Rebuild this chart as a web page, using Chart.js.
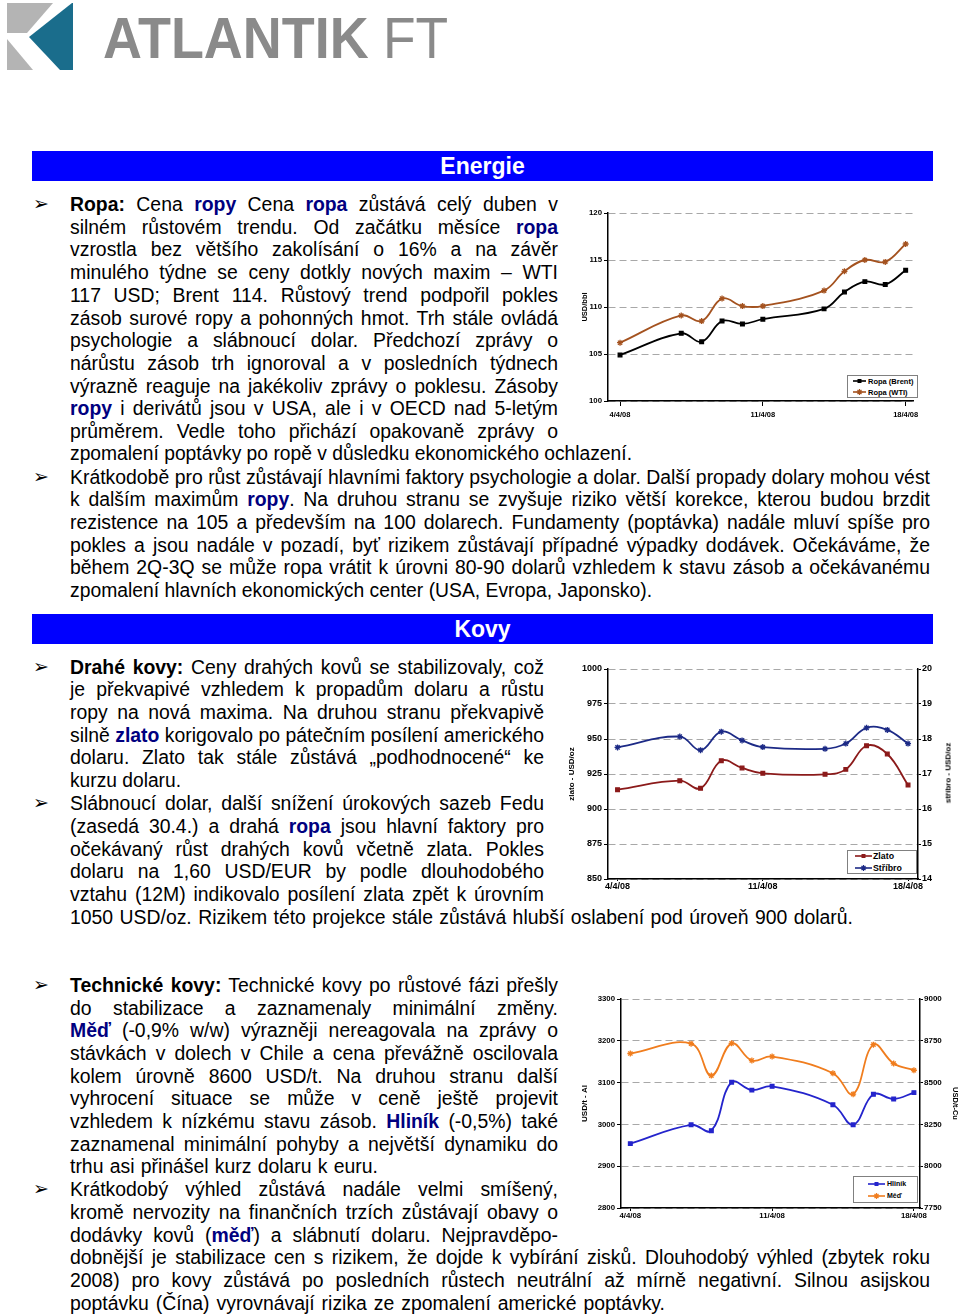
<!DOCTYPE html>
<html>
<head>
<meta charset="utf-8">
<script src="https://cdn.jsdelivr.net/npm/chart.js@4.4.0/dist/chart.umd.min.js"></script>
<style>
html,body{margin:0;padding:0;background:#fff;}
#page{position:relative;width:960px;height:1316px;overflow:hidden;font-family:'Liberation Sans',Arial,sans-serif;}
.ln{position:absolute;white-space:nowrap;font-size:19.4px;line-height:22px;color:#000;transform-origin:0 50%;}
.ln b.k{color:#000080;}
.bul{position:absolute;left:33px;font-family:'DejaVu Sans';font-size:19px;line-height:22px;}
.bar{position:absolute;left:32px;width:901px;height:30px;line-height:30px;background:#0000ff;color:#fff;font-weight:bold;font-size:23px;text-align:center;}
canvas{position:absolute;}
.lg{position:absolute;background:#fff;border:1px solid #808080;box-sizing:border-box;font-weight:bold;color:#000;}
.lg div,.lg svg{position:absolute;white-space:nowrap;}
.vt{position:absolute;font-weight:bold;white-space:nowrap;transform:translate(-50%,-50%) rotate(-90deg);}
.logo{position:absolute;top:9px;font-size:58px;line-height:58px;color:#8a8a8a;transform-origin:0 0;white-space:nowrap;}
</style>
</head>
<body>
<div id="page">
  <svg style="position:absolute;left:0;top:0" width="80" height="75">
    <rect x="7" y="3" width="66" height="67" fill="#fff"/>
    <polygon points="7,3 53,3 27,33 7,33" fill="#b4b4b4"/>
    <polygon points="7,39 33,70 7,70" fill="#b4b4b4"/>
    <polygon points="72,3 73,3 73,70 60,70 29,37" fill="#1a6d8c"/>
  </svg>
  <div class="logo" style="left:103px;font-weight:bold;transform:scaleX(0.93)">ATLANTIK</div>
  <div class="logo" style="left:383px;transform:scaleX(0.92)">FT</div>

  <div class="bar" style="top:151px">Energie</div>
  <div class="bar" style="top:614px">Kovy</div>

  <canvas id="chRopa" width="370" height="232" style="left:570px;top:195px"></canvas>
  <canvas id="chDrahe" width="400" height="247" style="left:560px;top:655px"></canvas>
  <canvas id="chTech" width="385" height="245" style="left:575px;top:985px"></canvas>
</div>

<script>
// --- data ---
var dates = ['4/4/08','7/4/08','8/4/08','9/4/08','10/4/08','11/4/08','14/4/08','15/4/08','16/4/08','17/4/08','18/4/08'];
var xTicks = ['4/4/08','11/4/08','18/4/08'];

var brent = [104.9, 107.2, 106.3, 108.5, 108.2, 108.7, 109.8, 111.6, 112.7, 112.4, 113.9];
var wti = [106.2, 109.1, 108.5, 110.9, 110.1, 110.1, 111.75, 113.8, 115.0, 114.8, 116.7];

var zlato = [913.8, 920.2, 914.8, 934.5, 929.3, 925.5, 924.8, 928.3, 945.2, 939.3, 917.1];
var stribro = [17.76, 18.07, 17.68, 18.21, 17.96, 17.77, 17.72, 17.87, 18.32, 18.26, 17.87];

var hlinik = [2954, 2999, 2985, 3101, 3082, 3091, 3047, 2999, 3072, 3061, 3076];
var med = [8674, 8733, 8542, 8735, 8632, 8656, 8556, 8431, 8727, 8614, 8574];

var ropaNames = ['Ropa (Brent)', 'Ropa (WTI)'];
var ropaColors = ['#000000', '#a4521f'];
var draheNames = ['Zlato', 'Stříbro'];
var draheColors = ['#8b1a1a', '#1c2a86'];
var techNames = ['Hliník', 'Měď'];
var techColors = ['#2424cc', '#f07d1e'];

// --- text lines: [y, x0, x1, html] ---
var lines = [
 [204,70,558,'<b>Ropa:</b> Cena <b class="k">ropy</b> Cena <b class="k">ropa</b> zůstává celý duben v'],
 [227,70,558,'silném růstovém trendu. Od začátku měsíce <b class="k">ropa</b>'],
 [249,70,558,'vzrostla bez většího zakolísání o 16% a na závěr'],
 [272,70,558,'minulého týdne se ceny dotkly nových maxim – WTI'],
 [295,70,558,'117 USD; Brent 114. Růstový trend podpořil pokles'],
 [318,70,558,'zásob surové ropy a pohonných hmot. Trh stále ovládá'],
 [340,70,558,'psychologie a slábnoucí dolar. Předchozí zprávy o'],
 [363,70,558,'nárůstu zásob trh ignoroval a v posledních týdnech'],
 [386,70,558,'výrazně reaguje na jakékoliv zprávy o poklesu. Zásoby'],
 [408,70,558,'<b class="k">ropy</b> i derivátů jsou v USA, ale i v OECD nad 5-letým'],
 [431,70,558,'průměrem. Vedle toho přichází opakovaně zprávy o'],
 [453,70,632,'zpomalení poptávky po ropě v důsledku ekonomického ochlazení.'],
 [477,70,930,'Krátkodobě pro růst zůstávají hlavními faktory psychologie a dolar. Další propady dolary mohou vést'],
 [499,70,930,'k dalším maximům <b class="k">ropy</b>. Na druhou stranu se zvyšuje riziko větší korekce, kterou budou brzdit'],
 [522,70,930,'rezistence na 105 a především na 100 dolarech. Fundamenty (poptávka) nadále mluví spíše pro'],
 [545,70,930,'pokles a jsou nadále v pozadí, byť rizikem zůstávají případné výpadky dodávek. Očekáváme, že'],
 [567,70,930,'během 2Q-3Q se může ropa vrátit k úrovni 80-90 dolarů vzhledem k stavu zásob a očekávanému'],
 [590,70,652,'zpomalení hlavních ekonomických center (USA, Evropa, Japonsko).'],
 [667,70,544,'<b>Drahé kovy:</b> Ceny drahých kovů se stabilizovaly, což'],
 [689,70,544,'je překvapivé vzhledem k propadům dolaru a růstu'],
 [712,70,544,'ropy na nová maxima. Na druhou stranu překvapivě'],
 [735,70,544,'silně <b class="k">zlato</b> korigovalo po pátečním posílení amerického'],
 [757,70,544,'dolaru. Zlato tak stále zůstává „podhodnocené“ ke'],
 [780,70,181,'kurzu dolaru.'],
 [803,70,544,'Slábnoucí dolar, další snížení úrokových sazeb Fedu'],
 [826,70,544,'(zasedá 30.4.) a drahá <b class="k">ropa</b> jsou hlavní faktory pro'],
 [849,70,544,'očekávaný růst drahých kovů včetně zlata. Pokles'],
 [871,70,544,'dolaru na 1,60 USD/EUR by podle dlouhodobého'],
 [894,70,544,'vztahu (12M) indikovalo posílení zlata zpět k úrovním'],
 [917,70,853,'1050 USD/oz. Rizikem této projekce stále zůstává hlubší oslabení pod úroveň 900 dolarů.'],
 [985,70,558,'<b>Technické kovy:</b> Technické kovy po růstové fázi přešly'],
 [1008,70,558,'do stabilizace a zaznamenaly minimální změny.'],
 [1030,70,558,'<b class="k">Měď</b> (-0,9% w/w) výrazněji nereagovala na zprávy o'],
 [1053,70,558,'stávkách v dolech v Chile a cena převážně oscilovala'],
 [1076,70,558,'kolem úrovně 8600 USD/t. Na druhou stranu další'],
 [1098,70,558,'vyhrocení situace se může v ceně ještě projevit'],
 [1121,70,558,'vzhledem k nízkému stavu zásob. <b class="k">Hliník</b> (-0,5%) také'],
 [1144,70,558,'zaznamenal minimální pohyby a největší dynamiku do'],
 [1166,70,378,'trhu asi přinášel kurz dolaru k euru.'],
 [1189,70,558,'Krátkodobý výhled zůstává nadále velmi smíšený,'],
 [1212,70,558,'kromě nervozity na finančních trzích zůstávají obavy o'],
 [1235,70,558,'dodávky kovů (<b class="k">měď</b>) a slábnutí dolaru. Nejpravděpo-'],
 [1257,70,930,'dobnější je stabilizace cen s rizikem, že dojde k vybírání zisků. Dlouhodobý výhled (zbytek roku'],
 [1280,70,930,'2008) pro kovy zůstává po posledních růstech neutrální až mírně negativní. Silnou asijskou'],
 [1303,70,665,'poptávku (Čína) vyrovnávají rizika ze zpomalení americké poptávky.']
];
var bullets = [204, 477, 667, 803, 985, 1189];

var page = document.getElementById('page');

function putText(){
  lines.forEach(function(l){
    var d = document.createElement('div');
    d.className = 'ln';
    d.style.left = l[1] + 'px';
    d.style.top = (l[0] - 11) + 'px';
    d.innerHTML = l[3];
    page.appendChild(d);
    var w = d.getBoundingClientRect().width;
    var target = l[2] - l[1];
    var gaps = (d.textContent.match(/ /g) || []).length;
    if (w > target) d.style.transform = 'scaleX(' + (target / w) + ')';
    else if (gaps) d.style.wordSpacing = ((target - w) / gaps) + 'px';
  });
  bullets.forEach(function(y){
    var b = document.createElement('div');
    b.className = 'bul';
    b.style.top = (y - 12) + 'px';
    b.textContent = '➢';
    page.appendChild(b);
  });
}
putText();

// --- charts ---
Chart.defaults.font.family = "'Liberation Sans', Arial, sans-serif";
Chart.defaults.color = '#000';

function dayOf(d){ return parseInt(d.split('/')[0], 10) - 4; }

function series(label, values, color, marker, axis){
  return {
    label: label,
    data: dates.map(function(d, i){ return {x: dayOf(d), y: values[i]}; }),
    borderColor: color,
    backgroundColor: color,
    borderWidth: 1.8,
    tension: 0.4,
    pointStyle: marker,
    pointRadius: marker == 'star' ? 3 : 2.6,
    pointBorderWidth: 1.3,
    yAxisID: axis || 'y'
  };
}

function xScale(min, max, h, fs, tl, pad){
  return {
    type: 'linear', min: min, max: max,
    afterBuildTicks: function(s){ s.ticks = xTicks.map(function(t){ return {value: dayOf(t)}; }); },
    afterFit: function(s){ s.height = h; s.paddingLeft = 0; s.paddingRight = 0; },
    ticks: {
      callback: function(v){ var t = xTicks.filter(function(k){ return dayOf(k) == v; }); return t.length ? t[0] : ''; },
      font: {size: fs, weight: 'bold'}, padding: pad, maxRotation: 0, autoSkip: false
    },
    grid: {drawOnChartArea: false, tickLength: tl, tickColor: '#000'},
    border: {color: '#000', width: 1.5}
  };
}

function yScale(pos, min, max, step, w, fs, title, tfs, tpad, tl, pad){
  return {
    type: 'linear', position: pos, min: min, max: max,
    afterFit: function(s){ s.width = w; s.paddingTop = 0; s.paddingBottom = 0; },
    ticks: {stepSize: step, font: {size: fs, weight: 'bold'}, padding: pad,
      callback: function(v){ return String(v); }},
    grid: pos == 'left'
      ? {color: '#a8a8a8', lineWidth: 1, tickColor: '#000', tickLength: tl}
      : {drawOnChartArea: false, tickColor: '#000', tickLength: tl},
    border: {color: '#000', width: 1.5, dash: [7, 4]},
    title: {display: !!title, text: title || '', font: {size: tfs, weight: 'bold'}, padding: {top: tpad, bottom: 0}}
  };
}

function baseOptions(pad, scales){
  return {
    responsive: false, animation: false, devicePixelRatio: 1,
    layout: {padding: pad},
    plugins: {legend: {display: false}, tooltip: {enabled: false}},
    scales: scales
  };
}

function legendBox(left, top, w, h, fs, names, colors, markers, rowY, sx, sw, tx){
  var box = document.createElement('div');
  box.className = 'lg';
  box.style.cssText = 'left:' + left + 'px;top:' + top + 'px;width:' + w + 'px;height:' + h + 'px;font-size:' + fs + 'px;';
  names.forEach(function(n, i){
    var c = colors[i];
    var m = markers[i] == 'star'
      ? '<path d="M' + (sw/2-3) + ' 4h6M' + (sw/2) + ' 1v6M' + (sw/2-2) + ' 2l4 4M' + (sw/2+2) + ' 2l-4 4" stroke="' + c + '" stroke-width="1.2"/>'
      : '<rect x="' + (sw/2-2) + '" y="2" width="4" height="4" fill="' + c + '"/>';
    var svg = '<svg width="' + sw + '" height="8" style="left:' + sx + 'px;top:' + (rowY[i]-5) + 'px"><line x1="0" y1="4" x2="' + sw + '" y2="4" stroke="' + c + '" stroke-width="1.6"/>' + m + '</svg>';
    var t = '<div style="left:' + tx + 'px;top:' + (rowY[i]-1 - fs*0.6) + 'px;line-height:' + (fs*1.2) + 'px">' + n + '</div>';
    box.innerHTML += svg + t;
  });
  page.appendChild(box);
}

function makeCharts(){
  new Chart(document.getElementById('chRopa'), {
    type: 'line',
    data: {datasets: [
      series(ropaNames[0], brent, ropaColors[0], 'rect'),
      series(ropaNames[1], wti, ropaColors[1], 'star')
    ]},
    options: baseOptions({top: 18, right: 27, left: 0, bottom: 0}, {
      x: xScale(-0.59, 14.36, 26, 7.5, 5, 4),
      y: yScale('left', 100, 120, 5, 38, 7.8, 'USD/bbl', 7.5, 10.5, 4, 2)
    })
  });
  legendBox(847, 375, 71, 23, 7.5, ropaNames, ropaColors, ['rect','star'], [6, 17], 5, 13, 20);

  new Chart(document.getElementById('chDrahe'), {
    type: 'line',
    data: {datasets: [
      series(draheNames[0], zlato, draheColors[0], 'rect', 'y'),
      series(draheNames[1], stribro, draheColors[1], 'star', 'y2')
    ]},
    options: baseOptions({top: 14, right: 0, left: 0, bottom: 0}, {
      x: xScale(-0.46, 14.48, 23, 9, 2, 0),
      y: yScale('left', 850, 1000, 25, 48, 9, 'zlato - USD/oz', 8, 7, 4, 2),
      y2: yScale('right', 14, 20, 1, 42, 9, '', 8, 0, 3, 1)
    })
  });
  legendBox(847, 850, 70, 24, 8.8, draheNames, draheColors, ['rect','star'], [6, 18], 7, 17, 25);
  var vt = document.createElement('div');
  vt.className = 'vt';
  vt.style.cssText = 'left:948px;top:773px;font-size:8px;';
  vt.textContent = 'stříbro - USD/oz';
  page.appendChild(vt);

  new Chart(document.getElementById('chTech'), {
    type: 'line',
    data: {datasets: [
      series(techNames[0], hlinik, techColors[0], 'rect', 'y'),
      series(techNames[1], med, techColors[1], 'star', 'y2')
    ]},
    options: baseOptions({top: 14, right: 0, left: 0, bottom: 0}, {
      x: xScale(-0.46, 14.3, 22, 7.8, 3, 0),
      y: yScale('left', 2800, 3300, 100, 46, 7.8, 'USD/t - Al', 8, 5, 4, 2),
      y2: yScale('right', 7750, 9000, 250, 40, 8, 'USD/t-Cu', 7.5, 0.5, 3, 1)
    })
  });
  legendBox(853, 1176, 65, 27, 7, techNames, techColors, ['rect','star'], [8, 20], 14, 17, 33);
}
makeCharts();
</script>
</body>
</html>
